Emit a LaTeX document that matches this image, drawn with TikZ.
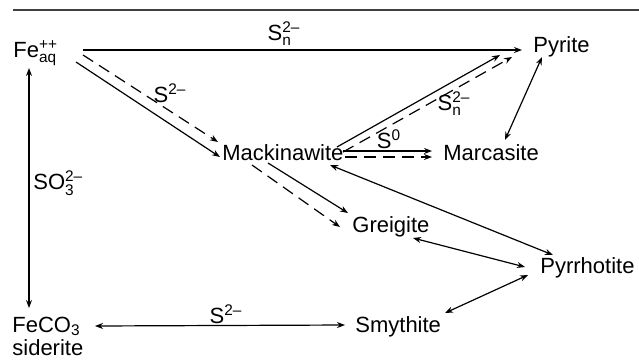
\documentclass[tikz,border=0pt]{standalone}
\usepackage{amsmath}
\usepackage{fontspec}
\setmainfont{Liberation Sans}
\usetikzlibrary{arrows.meta,calc}
\tikzset{
  mineral/.style={inner sep=0pt,anchor=base west,font=\fontsize{11}{13}\selectfont},
  lbl/.style={inner sep=0pt,anchor=base,font=\fontsize{11}{13}\selectfont},
  arr/.style={line width=0.6pt,-{Stealth[length=4pt,width=3pt]}},
  darr/.style={line width=0.6pt,{Stealth[length=4pt,width=3pt]}-{Stealth[length=4pt,width=3pt]}},
  dsh/.style={arr,dash pattern=on 6pt off 3.5pt},
}
\newcommand{\ssup}[2]{\ensuremath{{}^{\text{#1}}_{\text{#2}}}}
\begin{document}
\begin{tikzpicture}[x=0.5pt,y=-0.5pt]
  \useasboundingbox (0,0) rectangle (639,361);
  \draw[line width=1.1pt,black!75] (13,10) -- (639,10);
  % species
  \node[mineral] (fe) at (13,57){Fe\ssup{++}{aq}};
  \node[mineral] (pyr) at (533,52){Pyrite};
  \node[mineral] (mack) at (222,160){Mackinawite};
  \node[mineral] (marc) at (443,160){Marcasite};
  \node[mineral] (greig) at (352,232){Greigite};
  \node[mineral] (pyrr) at (540,273){Pyrrhotite};
  \node[mineral] (smyth) at (355,332){Smythite};
  \node[mineral] (feco) at (12,332){FeCO\textsubscript{3}};
  \node[mineral] (sid) at (12,355){siderite};
  % reagents
  \node[lbl] (l1) at (284,40){S\ssup{2--}{n}};
  \node[lbl] (l2) at (170,102){S\textsuperscript{2--}};
  \node[lbl] (l3) at (454,110){S\ssup{2--}{n}};
  \node[lbl] (l4) at (389,148){S\textsuperscript{0}};
  \node[lbl,anchor=base west] (l5) at (33,189){SO\ssup{2--}{3}};
  \node[lbl] (l6) at (226,323){S\textsuperscript{2--}};
  % from Fe
  \draw[arr] ($(fe.base west)+(70,-7)$) -- ($(pyr.base west)+(-11,-2)$);
  \draw[arr] ($(fe.base west)+(63,5)$) -- ($(mack.base west)+(-2,-3)$);
  \draw[dsh] ($(fe.base west)+(70,-2)$) -- ($(mack.base west)+(-4,-18)$);
  \draw[darr] ($(feco.base west)+(17,-24)$) -- ($(fe.base west)+(16,11)$);
  % from Mackinawite
  \draw[arr] ($(mack.base west)+(115,-13)$) -- ($(pyr.base west)+(-33,3)$);
  \draw[dsh] ($(mack.base west)+(121,-8)$) -- ($(pyr.base west)+(-21,5)$);
  \draw[arr] ($(mack.base west)+(121,-9)$) -- ($(marc.base west)+(-11,-9)$);
  \draw[dsh] ($(mack.base west)+(123,-3)$) -- ($(marc.base west)+(-11,-3)$);
  \draw[arr] ($(mack.base west)+(46,3)$) -- ($(greig.base west)+(-4,-19)$);
  \draw[dsh] ($(mack.base west)+(30,5)$) -- ($(greig.base west)+(-12,-5)$);
  \draw[darr] ($(mack.base west)+(108,5)$) -- ($(pyrr.base west)+(13,-18)$);
  % others
  \draw[darr] ($(pyr.base west)+(9,5)$) -- ($(marc.base west)+(62,-20)$);
  \draw[darr] ($(greig.base west)+(61,6)$) -- ($(pyrr.base west)+(-15,-6)$);
  \draw[darr] ($(smyth.base west)+(90,-19)$) -- ($(pyrr.base west)+(-12,2)$);
  \draw[darr] ($(feco.base west)+(83,-6)$) -- ($(smyth.base west)+(-10,-7)$);
\end{tikzpicture}
\end{document}
